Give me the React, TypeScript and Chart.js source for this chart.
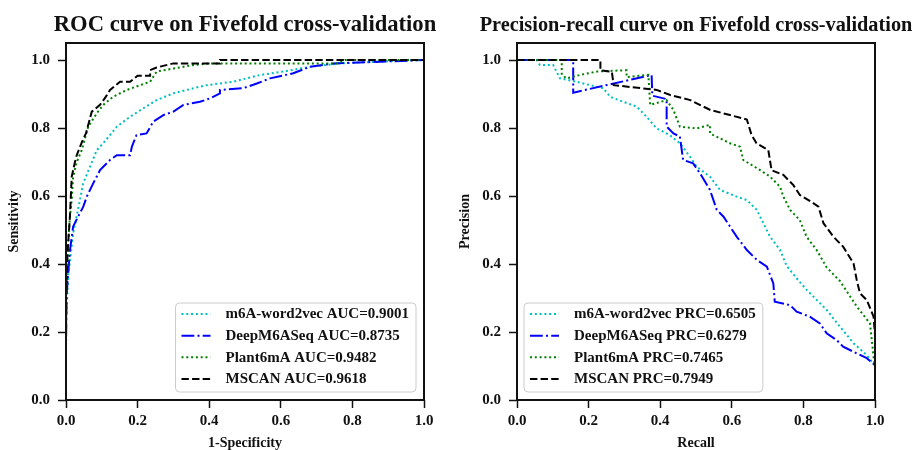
import React, { useEffect, useRef } from 'react';
import { Chart, registerables } from 'chart.js';

Chart.register(...registerables);

// ---------- Data ----------
const SERIES_NAMES = ['m6A-word2vec', 'DeepM6ASeq', 'Plant6mA', 'MSCAN'];
const ROC_AUC = ['0.9001', '0.8735', '0.9482', '0.9618'];
const PRC_AUC = ['0.6505', '0.6279', '0.7465', '0.7949'];

// ROC curves (x = 1-Specificity, y = Sensitivity)
const rocW2vX = [0, 0, 0.002, 0.006, 0.011, 0.02, 0.039, 0.048, 0.067, 0.086, 0.104, 0.142, 0.179, 0.216, 0.253, 0.30, 0.356, 0.393, 0.467, 0.542, 0.607, 0.682, 0.765, 0.868, 1.0];
const rocW2vY = [0, 0.2, 0.28, 0.36, 0.41, 0.49, 0.588, 0.637, 0.686, 0.735, 0.755, 0.804, 0.833, 0.858, 0.882, 0.902, 0.917, 0.926, 0.936, 0.956, 0.966, 0.98, 0.99, 0.995, 1.0];

const rocDeepX = [0, 0, 0.002, 0.011, 0.02, 0.034, 0.048, 0.058, 0.076, 0.095, 0.123, 0.142, 0.179, 0.184, 0.197, 0.225, 0.244, 0.272, 0.30, 0.328, 0.374, 0.402, 0.43, 0.43, 0.495, 0.533, 0.57, 0.635, 0.682, 0.747, 0.877, 1.0];
const rocDeepY = [0, 0.157, 0.315, 0.44, 0.51, 0.54, 0.568, 0.598, 0.637, 0.676, 0.706, 0.72, 0.72, 0.745, 0.779, 0.784, 0.819, 0.838, 0.848, 0.868, 0.877, 0.887, 0.902, 0.912, 0.917, 0.931, 0.946, 0.961, 0.98, 0.99, 0.995, 1.0];

const rocPlantX = [0, 0, 0.006, 0.011, 0.016, 0.02, 0.03, 0.044, 0.062, 0.086, 0.104, 0.132, 0.17, 0.207, 0.235, 0.253, 0.30, 0.355, 0.40, 0.76, 0.78, 1.0];
const rocPlantY = [0, 0.3, 0.46, 0.54, 0.59, 0.657, 0.70, 0.735, 0.804, 0.843, 0.868, 0.892, 0.912, 0.926, 0.936, 0.966, 0.975, 0.985, 0.99, 0.99, 1.0, 1.0];

const rocMscanX = [0, 0, 0.003, 0.006, 0.011, 0.016, 0.025, 0.03, 0.045, 0.056, 0.072, 0.095, 0.11, 0.123, 0.151, 0.179, 0.20, 0.235, 0.235, 0.253, 0.30, 0.43, 0.43, 1.0];
const rocMscanY = [0, 0.3, 0.4, 0.46, 0.54, 0.657, 0.70, 0.72, 0.76, 0.785, 0.848, 0.868, 0.89, 0.912, 0.936, 0.936, 0.954, 0.954, 0.97, 0.978, 0.99, 0.99, 1.0, 1.0];

// Precision-recall curves (x = Recall, y = Precision)
const prW2vX = [0, 0.055, 0.064, 0.101, 0.12, 0.167, 0.204, 0.241, 0.26, 0.297, 0.334, 0.362, 0.39, 0.427, 0.455, 0.483, 0.502, 0.539, 0.567, 0.614, 0.642, 0.67, 0.688, 0.707, 0.735, 0.753, 0.781, 0.809, 0.828, 0.865, 0.902, 0.94, 0.977, 1.0];
const prW2vY = [1.0, 1.0, 0.985, 0.985, 0.946, 0.936, 0.926, 0.917, 0.892, 0.877, 0.863, 0.833, 0.799, 0.779, 0.755, 0.716, 0.686, 0.657, 0.618, 0.598, 0.588, 0.559, 0.52, 0.48, 0.441, 0.395, 0.358, 0.324, 0.304, 0.265, 0.216, 0.167, 0.132, 0.10];

const prDeepX = [0, 0.157, 0.157, 0.376, 0.378, 0.418, 0.418, 0.437, 0.455, 0.464, 0.492, 0.511, 0.539, 0.558, 0.577, 0.595, 0.614, 0.642, 0.67, 0.698, 0.716, 0.72, 0.763, 0.781, 0.818, 0.846, 0.865, 0.893, 0.911, 0.949, 0.977, 1.0];
const prDeepY = [1.0, 1.0, 0.904, 0.956, 0.895, 0.885, 0.804, 0.784, 0.775, 0.706, 0.696, 0.667, 0.618, 0.559, 0.539, 0.51, 0.48, 0.441, 0.412, 0.392, 0.343, 0.289, 0.279, 0.26, 0.245, 0.225, 0.196, 0.176, 0.157, 0.137, 0.123, 0.103];

const prPlantX = [0, 0.125, 0.125, 0.139, 0.176, 0.223, 0.306, 0.306, 0.367, 0.372, 0.418, 0.437, 0.455, 0.502, 0.539, 0.539, 0.595, 0.623, 0.632, 0.679, 0.707, 0.735, 0.744, 0.763, 0.79, 0.809, 0.837, 0.865, 0.902, 0.949, 0.986, 0.996, 1.0];
const prPlantY = [1.0, 1.0, 0.956, 0.946, 0.956, 0.966, 0.97, 0.95, 0.956, 0.868, 0.882, 0.853, 0.804, 0.799, 0.809, 0.784, 0.755, 0.745, 0.706, 0.676, 0.657, 0.627, 0.598, 0.559, 0.529, 0.48, 0.441, 0.39, 0.35, 0.275, 0.225, 0.127, 0.1];

const prMscanX = [0, 0.233, 0.233, 0.265, 0.27, 0.39, 0.428, 0.484, 0.54, 0.595, 0.642, 0.655, 0.669, 0.702, 0.711, 0.744, 0.772, 0.79, 0.814, 0.842, 0.856, 0.884, 0.911, 0.94, 0.949, 0.958, 0.977, 0.996, 1.0];
const prMscanY = [1.0, 1.0, 0.97, 0.965, 0.926, 0.912, 0.897, 0.882, 0.853, 0.838, 0.825, 0.78, 0.755, 0.735, 0.676, 0.662, 0.632, 0.603, 0.588, 0.569, 0.52, 0.48, 0.451, 0.402, 0.353, 0.314, 0.294, 0.245, 0.19];

// ---------- Styles ----------
const FONT = "'Liberation Serif', 'Times New Roman', serif";
const COLORS = ['#00bfbf', '#0000ff', '#008000', '#000000'];
const DASHES = [[2, 2.8], [12.8, 3.2, 2, 3.2], [2, 2.8], [7.4, 3.2]];
const ORDERS = [3, 2, 1, 0];

function buildDatasets(xs: number[][], ys: number[][]) {
  return xs.map((xArr, s) => ({
    label: SERIES_NAMES[s],
    data: xArr.map((x, i) => ({ x, y: ys[s][i] })),
    borderColor: COLORS[s],
    borderDash: DASHES[s],
    borderWidth: 2,
    pointRadius: 0,
    fill: false,
    tension: 0,
    order: ORDERS[s],
  }));
}

const framePlugin = {
  id: 'frameTitle',
  afterDraw(chart: any, _args: any, opts: any) {
    const { ctx, chartArea: a } = chart;
    ctx.save();
    ctx.setLineDash([]);
    ctx.lineWidth = 2;
    ctx.strokeStyle = '#111';
    ctx.strokeRect(a.left, a.top, a.right - a.left, a.bottom - a.top);
    ctx.fillStyle = '#111';
    ctx.font = `bold ${opts.size}px ${FONT}`;
    ctx.textAlign = 'center';
    ctx.textBaseline = 'alphabetic';
    ctx.fillText(opts.text, (a.left + a.right) / 2, 30.5);
    ctx.restore();
  },
};

const legendPlugin = {
  id: 'boxLegend',
  afterDraw(chart: any, _args: any, opts: any) {
    const { ctx, chartArea: a } = chart;
    const items = opts.items as { text: string; color: string; dash: number[] }[];
    ctx.save();
    ctx.font = `bold 15px ${FONT}`;
    const textW = Math.max(...items.map((it) => ctx.measureText(it.text).width));
    const w = 50 + textW + 7;
    const h = 89;
    const x0 = opts.corner === 'br' ? a.right - 8 - w : a.left + 7;
    const y0 = a.bottom - 8 - h;
    const r = 4;
    ctx.beginPath();
    ctx.moveTo(x0 + r, y0);
    ctx.arcTo(x0 + w, y0, x0 + w, y0 + h, r);
    ctx.arcTo(x0 + w, y0 + h, x0, y0 + h, r);
    ctx.arcTo(x0, y0 + h, x0, y0, r);
    ctx.arcTo(x0, y0, x0 + w, y0, r);
    ctx.closePath();
    ctx.fillStyle = 'rgba(255,255,255,0.85)';
    ctx.fill();
    ctx.lineWidth = 1;
    ctx.strokeStyle = '#cccccc';
    ctx.stroke();
    items.forEach((it, i) => {
      const y = y0 + 11 + i * 21.67;
      ctx.beginPath();
      ctx.setLineDash(it.dash);
      ctx.lineWidth = 2;
      ctx.strokeStyle = it.color;
      ctx.moveTo(x0 + 6, y);
      ctx.lineTo(x0 + 35, y);
      ctx.stroke();
      ctx.setLineDash([]);
      ctx.fillStyle = '#111';
      ctx.textAlign = 'left';
      ctx.textBaseline = 'middle';
      ctx.fillText(it.text, x0 + 50, y + 0.5);
    });
    ctx.restore();
  },
};

type Props = {
  left: number;
  width: number;
  axisWidth: number;
  padRight: number;
  yTitlePad: number;
  title: string;
  titleSize: number;
  xTitle: string;
  yTitle: string;
  datasets: any[];
  legendTexts: string[];
  corner: 'br' | 'bl';
};

function CurveChart(p: Props) {
  const ref = useRef<HTMLCanvasElement>(null);
  useEffect(() => {
    const tickFont = { family: FONT, size: 15, weight: 'bold' as const };
    const titleFont = { family: FONT, size: 14, weight: 'bold' as const, lineHeight: 1.0 };
    const chart = new Chart(ref.current as HTMLCanvasElement, {
      type: 'line',
      data: { datasets: p.datasets },
      options: {
        animation: false,
        responsive: false,
        devicePixelRatio: 1,
        layout: { padding: { top: 43, right: p.padRight, left: 0, bottom: 0 } },
        plugins: {
          legend: { display: false },
          title: { display: false },
          tooltip: { enabled: false },
          frameTitle: { text: p.title, size: p.titleSize },
          boxLegend: {
            corner: p.corner,
            items: p.legendTexts.map((t, i) => ({ text: t, color: COLORS[i], dash: DASHES[i] })),
          },
        } as any,
        scales: {
          x: {
            type: 'linear',
            min: 0,
            max: 1,
            border: { display: false },
            grid: { drawOnChartArea: false, drawTicks: true, tickLength: 8, tickColor: '#111', tickWidth: 1.5 },
            ticks: {
              stepSize: 0.2,
              includeBounds: false,
              padding: 4,
              color: '#111',
              font: tickFont,
              maxRotation: 0,
              callback: (v: any) => Number(v).toFixed(1),
            },
            title: { display: true, text: p.xTitle, color: '#111', font: titleFont, padding: { top: 0, bottom: 0 } },
            afterFit: (s: any) => {
              s.height = 50;
            },
          },
          y: {
            type: 'linear',
            min: 0,
            max: 1.05,
            border: { display: false },
            grid: { drawOnChartArea: false, drawTicks: true, tickLength: 8, tickColor: '#111', tickWidth: 1.5 },
            ticks: {
              stepSize: 0.2,
              includeBounds: false,
              padding: 8,
              color: '#111',
              font: tickFont,
              callback: (v: any) => Number(v).toFixed(1),
            },
            title: {
              display: true,
              text: p.yTitle,
              color: '#111',
              font: { family: FONT, size: 14, weight: 'bold' as const },
              padding: { top: p.yTitlePad, bottom: 0 },
            },
            afterFit: (s: any) => {
              s.width = p.axisWidth;
            },
          },
        },
      },
      plugins: [framePlugin, legendPlugin],
    });
    return () => chart.destroy();
  }, []);
  return (
    <canvas
      ref={ref}
      width={p.width}
      height={450}
      style={{ position: 'absolute', left: p.left, top: 0, width: p.width, height: 450 }}
    />
  );
}

export default function App() {
  const rocSets = buildDatasets(
    [rocW2vX, rocDeepX, rocPlantX, rocMscanX],
    [rocW2vY, rocDeepY, rocPlantY, rocMscanY]
  );
  const prSets = buildDatasets(
    [prW2vX, prDeepX, prPlantX, prMscanX],
    [prW2vY, prDeepY, prPlantY, prMscanY]
  );
  return (
    <div style={{ position: 'fixed', left: 0, top: 0, width: 915, height: 450, background: '#fff' }}>
      <CurveChart
        left={0}
        width={457}
        axisWidth={66}
        padRight={33}
        yTitlePad={5.6}
        title="ROC curve on Fivefold cross-validation"
        titleSize={22.6}
        xTitle="1-Specificity"
        yTitle="Sensitivity"
        datasets={rocSets}
        legendTexts={SERIES_NAMES.map((n, i) => `${n} AUC=${ROC_AUC[i]}`)}
        corner="br"
      />
      <CurveChart
        left={457}
        width={458}
        axisWidth={60}
        padRight={40}
        yTitlePad={0}
        title="Precision-recall curve on Fivefold cross-validation"
        titleSize={20.3}
        xTitle="Recall"
        yTitle="Precision"
        datasets={prSets}
        legendTexts={SERIES_NAMES.map((n, i) => `${n} PRC=${PRC_AUC[i]}`)}
        corner="bl"
      />
    </div>
  );
}
